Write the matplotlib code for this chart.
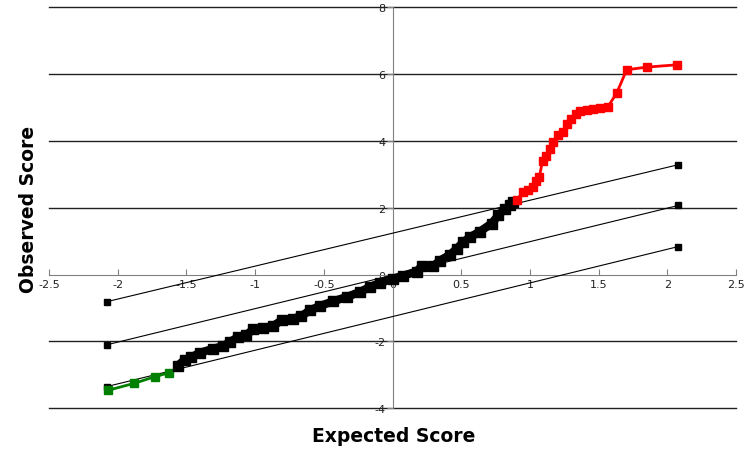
import numpy as np
import matplotlib
matplotlib.use('Agg')
import matplotlib.pyplot as plt

# expected (normal) score vs observed score
exp_low = [-2.07, -1.878, -1.727, -1.628]
obs_low = [-3.46, -3.25, -3.05, -2.94]

exp_mid = [-1.562, -1.513, -1.464, -1.403, -1.307, -1.234, -1.185, -1.125,
           -1.063, -1.015, -0.942, -0.870, -0.808, -0.724, -0.663, -0.602,
           -0.530, -0.433, -0.335, -0.238, -0.165, -0.092, 0.0, 0.077,
           0.175, 0.211, 0.296, 0.344, 0.417, 0.466, 0.514, 0.563, 0.636,
           0.721, 0.769, 0.818, 0.854, 0.878]
obs_mid = [-2.72, -2.55, -2.47, -2.34, -2.22, -2.14, -2.02, -1.87,
           -1.80, -1.64, -1.60, -1.54, -1.37, -1.32, -1.24, -1.07,
           -0.94, -0.80, -0.67, -0.52, -0.37, -0.25, -0.13, -0.03,
           0.09, 0.25, 0.25, 0.42, 0.59, 0.77, 0.97, 1.12, 1.29,
           1.53, 1.77, 1.97, 2.07, 2.17]

exp_high = [0.903, 0.947, 0.988, 1.024, 1.041, 1.068, 1.092, 1.117, 1.146,
            1.170, 1.202, 1.238, 1.267, 1.299, 1.335, 1.364, 1.412, 1.461,
            1.510, 1.565, 1.631, 1.704, 1.850, 2.073]
obs_high = [2.22, 2.47, 2.52, 2.62, 2.79, 2.92, 3.41, 3.56, 3.76,
            3.98, 4.18, 4.26, 4.51, 4.66, 4.81, 4.91, 4.94, 4.96,
            4.99, 5.01, 5.43, 6.13, 6.21, 6.28]

# reference lines (end points)
ref_x = [-2.08, 2.08]
ref_upper = [-0.81, 3.29]
ref_centre = [-2.10, 2.07]
ref_lower = [-3.35, 0.84]

fig = plt.figure(figsize=(7.44, 4.56), dpi=100)
ax = fig.add_axes([0.0659, 0.1024, 0.9234, 0.8794])

for yy in [-4, -2, 2, 4, 6, 8]:
    ax.axhline(yy, color='#202020', lw=1.0, zorder=1, clip_on=False)

for ry in (ref_upper, ref_centre, ref_lower):
    ax.plot(ref_x, ry, color='black', lw=0.8, marker='s', ms=4.5, zorder=3)

ax.plot(exp_low, obs_low, color='#008000', lw=2, marker='s', ms=6, zorder=4)
ax.plot(exp_mid, obs_mid, color='black', lw=6, marker='s', ms=6.5,
        solid_joinstyle='round', solid_capstyle='butt', zorder=4)
ax.plot(exp_high, obs_high, color='#ff0000', lw=2, marker='s', ms=6, zorder=4)

ax.set_xlim(-2.5, 2.5)
ax.set_ylim(-4, 8)
ax.set_xticks(np.arange(-2.5, 2.51, 0.5))
ax.set_xticklabels(['-2.5', '-2', '-1.5', '-1', '-0.5', '0', '0.5', '1', '1.5', '2', '2.5'])
ax.set_yticks(np.arange(-4, 8.1, 2))
ax.set_yticklabels(['-4', '-2', '0', '2', '4', '6', '8'])

ax.spines['top'].set_visible(False)
ax.spines['right'].set_visible(False)
ax.spines['bottom'].set_position(('data', 0))
ax.spines['left'].set_position(('data', 0))
ax.spines['bottom'].set_color('#808080')
ax.spines['left'].set_color('#808080')
ax.spines['bottom'].set_zorder(2)
ax.spines['left'].set_zorder(2)
ax.tick_params(axis='x', direction='in', length=4, color='#808080',
               labelsize=8, labelcolor='#222222', pad=3)
ax.tick_params(axis='y', direction='out', length=4, color='#808080',
               labelsize=8, labelcolor='#222222', pad=1)
ax.patch.set_alpha(0)

fig.text(0.529, 0.042, 'Expected Score', ha='center', va='center',
         fontsize=13.5, fontweight='bold')
fig.text(0.038, 0.54, 'Observed Score', ha='center', va='center',
         rotation=90, fontsize=13.5, fontweight='bold')

fig.savefig('out.png', dpi=100)
